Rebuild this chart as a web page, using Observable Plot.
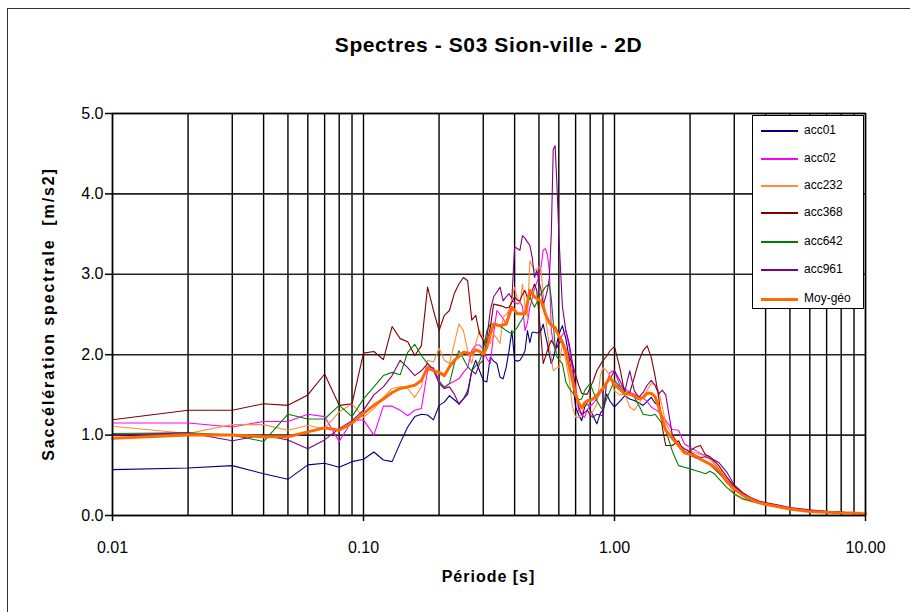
<!DOCTYPE html>
<html><head><meta charset="utf-8">
<script src="https://cdn.jsdelivr.net/npm/d3@7"></script>
<script src="https://cdn.jsdelivr.net/npm/@observablehq/plot@0.6"></script>
<style>
body{margin:0;overflow:hidden;background:#fff;font-family:Arial,"Liberation Sans",sans-serif}
#wrap{position:relative;width:910px;height:612px;overflow:hidden}
#frame{position:absolute;left:7px;top:8px;width:1200px;height:1200px;border:1px solid #333;box-sizing:border-box}
#chart{position:absolute;left:0;top:0}
.t{position:absolute;font-weight:bold;color:#000;white-space:nowrap}
#title{left:0;width:977px;text-align:center;top:33px;font-size:21px;letter-spacing:0.6px}
#xlab{left:0;width:977px;text-align:center;top:568px;font-size:16px;letter-spacing:1px}
#ylab{left:49px;top:314px;font-size:16px;letter-spacing:1.9px;transform:translate(-50%,-50%) rotate(-90deg)}
#legend{position:absolute;left:752px;top:115px;width:112px;height:194px;border:1px solid #000;background:#fff;box-sizing:border-box}
.li{position:absolute;left:8px;height:14px;font-size:12px;line-height:14px;white-space:nowrap}
.li span.sw{position:absolute;left:0;width:37px}
.li span.lb{position:absolute;left:43px;top:-1px}
</style></head>
<body>
<div id="wrap">
<div id="frame"></div>
<div id="chart"></div>
<div class="t" id="title">Spectres - S03 Sion-ville - 2D</div>
<div class="t" id="xlab">Période [s]</div>
<div class="t" id="ylab">Saccélération spectrale&nbsp; [m/s2]</div>
<div id="legend"></div>
</div>
<script>
const periods = [0.01,0.02,0.03,0.04,0.05,0.06,0.07,0.08,0.09,0.10,
0.11,0.12,0.13,0.14,0.15,0.16,0.17,0.18,0.19,0.20,
0.21,0.22,0.23,0.24,0.25,0.26,0.27,0.28,0.29,0.30,
0.31,0.32,0.33,0.34,0.35,0.36,0.37,0.38,0.39,0.40,
0.41,0.42,0.43,0.44,0.45,0.46,0.47,0.48,0.49,0.50,
0.51,0.52,0.53,0.54,0.55,0.56,0.57,0.58,0.59,0.60,
0.62,0.64,0.66,0.68,0.70,0.72,0.74,0.76,0.78,0.80,
0.82,0.85,0.88,0.90,0.93,0.96,1.00,1.05,1.10,1.15,
1.20,1.25,1.30,1.35,1.40,1.45,1.50,1.55,1.60,1.70,
1.80,1.90,2.00,2.10,2.20,2.30,2.40,2.50,2.60,2.80,
3.00,3.25,3.50,3.75,4.00,4.50,5.00,6.00,7.00,8.00,9.00,10.0];

const acc01 = [0.57,0.59,0.62,0.52,0.45,0.63,0.65,0.60,0.67,0.70,
0.79,0.69,0.67,0.90,1.10,1.23,1.26,1.25,1.19,1.37,
1.41,1.49,1.44,1.39,1.45,1.51,1.80,1.93,1.80,1.68,
1.66,1.97,1.92,1.89,1.72,1.70,1.84,2.05,2.30,1.93,
1.92,1.93,1.98,2.05,2.30,2.15,2.28,2.28,2.27,2.28,
2.30,2.38,2.25,2.14,2.00,1.89,1.95,2.05,2.15,2.25,
2.36,2.20,1.95,1.68,1.35,1.25,1.18,1.35,1.40,1.31,
1.25,1.14,1.28,1.31,1.51,1.42,1.35,1.42,1.49,1.45,
1.43,1.40,1.37,1.42,1.47,1.40,1.37,1.21,1.06,0.95,
0.88,0.80,0.75,0.72,0.70,0.67,0.63,0.58,0.53,0.42,
0.33,0.26,0.21,0.17,0.15,0.12,0.09,0.06,0.05,0.04,0.03,0.02];

const acc02 = [1.15,1.15,1.10,1.17,1.17,1.26,1.23,0.92,1.18,1.19,
1.00,1.36,1.36,1.31,1.24,1.31,1.33,1.80,1.84,1.68,
1.58,1.64,1.67,1.70,1.78,1.84,2.05,2.12,2.12,2.07,
1.95,1.89,2.26,2.55,2.50,2.45,2.38,2.55,2.67,2.65,
2.63,2.66,2.60,2.30,2.40,2.59,2.70,2.82,2.90,2.96,
3.10,3.30,3.32,3.25,3.05,2.30,2.15,2.05,2.10,2.14,
2.25,2.30,2.09,1.80,1.60,1.30,1.25,1.22,1.32,1.36,
1.39,1.45,1.53,1.56,1.64,1.78,1.80,1.62,1.58,1.53,
1.51,1.48,1.46,1.42,1.35,1.32,1.29,1.24,1.18,1.07,
1.06,0.89,0.85,0.81,0.77,0.75,0.73,0.65,0.58,0.45,
0.35,0.27,0.22,0.18,0.15,0.12,0.09,0.06,0.05,0.04,0.03,0.02];

const acc232 = [1.11,1.02,1.13,1.13,1.06,1.12,1.08,1.29,1.39,1.22,
1.33,1.47,1.58,1.60,1.58,1.47,1.60,1.93,1.91,2.08,
1.93,1.89,2.14,2.38,2.30,2.05,1.89,2.14,2.30,2.20,
2.18,2.14,2.26,2.20,2.14,2.47,2.50,2.55,2.70,2.84,
2.70,2.63,2.88,2.60,2.47,3.17,3.10,3.05,3.07,3.09,
3.05,2.76,2.50,2.30,2.10,1.97,1.80,1.82,1.84,1.84,
2.14,1.92,1.70,1.35,1.22,1.22,1.25,1.40,1.40,1.26,
1.30,1.38,1.75,1.84,1.80,1.74,1.55,1.50,1.51,1.35,
1.31,1.39,1.48,1.56,1.64,1.63,1.55,1.35,1.15,1.00,
0.89,0.83,0.80,0.78,0.76,0.74,0.70,0.64,0.58,0.44,
0.26,0.20,0.17,0.15,0.13,0.11,0.08,0.06,0.04,0.03,0.03,0.02];

const acc368 = [1.19,1.31,1.31,1.39,1.37,1.50,1.76,1.37,1.39,2.02,
2.04,1.94,2.35,2.20,2.16,1.99,2.11,2.84,2.55,2.30,
2.49,2.55,2.76,2.88,2.96,2.92,2.43,2.49,2.26,2.18,
2.14,2.34,2.63,2.62,2.61,2.60,2.58,2.59,2.65,2.72,
2.68,2.67,2.75,2.80,2.70,2.72,2.80,2.88,2.80,2.50,
2.22,1.89,1.97,2.05,2.12,2.18,2.14,2.10,2.09,2.14,
2.18,2.05,1.97,1.89,1.75,1.62,1.52,1.51,1.51,1.60,
1.66,1.80,1.88,1.93,1.98,2.05,2.10,1.84,1.51,1.53,
1.72,1.92,2.05,2.11,1.97,1.74,1.47,1.10,0.87,0.87,
0.93,0.77,0.80,0.85,0.87,0.76,0.73,0.68,0.62,0.48,
0.36,0.28,0.21,0.17,0.15,0.12,0.09,0.06,0.05,0.04,0.03,0.02];

const acc642 = [1.02,1.03,1.00,0.92,1.26,1.20,1.20,1.37,1.23,1.45,
1.60,1.74,1.78,1.75,2.03,2.13,1.99,1.89,1.80,1.66,
1.60,1.64,1.89,2.05,1.95,1.85,1.80,1.86,1.92,2.05,
2.30,2.38,2.38,2.38,2.35,2.33,2.30,2.28,2.26,2.30,
2.34,2.40,2.45,2.52,2.62,2.72,2.65,2.59,2.65,2.72,
2.76,2.80,2.84,2.86,2.88,2.70,2.40,2.10,1.97,1.94,
1.89,1.66,1.58,1.53,1.48,1.44,1.45,1.55,1.60,1.64,
1.55,1.43,1.35,1.31,1.45,1.55,1.68,1.60,1.55,1.51,
1.47,1.37,1.26,1.25,1.24,1.26,1.20,1.14,1.06,0.80,
0.62,0.60,0.58,0.56,0.54,0.52,0.55,0.52,0.46,0.35,
0.27,0.21,0.18,0.16,0.14,0.11,0.09,0.06,0.05,0.04,0.03,0.02];

const acc961 = [1.00,1.03,0.93,1.00,0.94,0.83,0.94,1.08,1.18,1.31,
1.50,1.60,1.74,1.93,1.84,1.74,1.80,1.89,1.82,1.64,
1.58,1.60,1.51,1.38,1.45,1.55,1.80,1.76,1.89,1.93,
2.20,2.55,2.72,2.78,2.84,2.67,2.72,2.76,2.70,3.34,
3.32,3.30,3.48,3.45,3.40,3.36,3.21,2.96,3.05,2.92,
2.80,2.63,2.70,2.80,2.95,3.50,4.55,4.60,4.10,3.50,
2.60,2.30,2.14,1.90,1.55,1.35,1.26,1.28,1.31,1.25,
1.22,1.26,1.25,1.24,1.65,1.70,1.80,1.68,1.55,1.80,
1.55,1.47,1.53,1.62,1.68,1.62,1.51,1.56,1.50,1.00,
0.88,0.83,0.79,0.75,0.72,0.73,0.71,0.69,0.66,0.54,
0.38,0.28,0.22,0.18,0.16,0.13,0.10,0.07,0.05,0.04,0.03,0.02];

const moyGeo = [0.96,1.00,1.00,0.98,0.98,1.04,1.09,1.06,1.15,1.27,
1.37,1.45,1.53,1.58,1.60,1.62,1.68,1.84,1.80,1.78,
1.74,1.85,1.93,1.98,2.03,2.02,2.01,2.06,2.04,2.01,
2.09,2.25,2.38,2.37,2.36,2.37,2.38,2.48,2.59,2.55,
2.51,2.51,2.51,2.51,2.65,2.80,2.76,2.72,2.70,2.68,
2.67,2.59,2.51,2.45,2.40,2.37,2.35,2.34,2.28,2.24,
2.15,2.05,1.85,1.68,1.51,1.40,1.34,1.40,1.43,1.43,
1.45,1.49,1.55,1.58,1.65,1.72,1.63,1.57,1.51,1.51,
1.49,1.45,1.47,1.52,1.52,1.48,1.35,1.20,1.06,0.96,
0.87,0.78,0.76,0.74,0.70,0.67,0.64,0.60,0.56,0.42,
0.33,0.25,0.20,0.16,0.14,0.11,0.08,0.05,0.04,0.03,0.03,0.02];

const seriesNames = ["acc01","acc02","acc232","acc368","acc642","acc961","Moy-géo"];
const seriesValues = [acc01, acc02, acc232, acc368, acc642, acc961, moyGeo];
const seriesColors = ["#000080","#ff00ff","#ff8c3a","#800000","#008000","#800080","#ff6a00"];
const seriesWidths = [1.1,1.1,1.1,1.1,1.1,1.1,3];

const xTicks = [0.01, 0.1, 1, 10];
const xGrid = [0.01,0.02,0.03,0.04,0.05,0.06,0.07,0.08,0.09,
0.1,0.2,0.3,0.4,0.5,0.6,0.7,0.8,0.9,
1,2,3,4,5,6,7,8,9,10];
const yTicks = [0,1,2,3,4,5];

const lineMarks = seriesNames.map((name, k) =>
  Plot.line(periods.map((p, i) => ({p, v: seriesValues[k][i]})), {
    x: "p", y: "v", stroke: seriesColors[k], strokeWidth: seriesWidths[k], strokeLinejoin: "round"
  })
);

const chart = Plot.plot({
  width: 910, height: 612,
  marginLeft: 112, marginRight: 45, marginTop: 113, marginBottom: 97,
  x: {type: "log", domain: [0.01, 10]},
  y: {domain: [0, 5]},
  style: {fontFamily: "Arial, 'Liberation Sans', sans-serif", fontSize: "16px", background: "transparent", color: "#000"},
  marks: [
    Plot.ruleX(xGrid, {stroke: "#000", strokeWidth: 1.4}),
    Plot.ruleY(yTicks, {stroke: "#222", strokeWidth: 1.6}),
    ...lineMarks,
    Plot.frame({stroke: "#000", strokeWidth: 1.5}),
    Plot.axisX({ticks: xTicks, tickFormat: d3.format(".2f"), tickSize: 6, tickPadding: 20, label: null, fontSize: 16, strokeWidth: 1.5}),
    Plot.axisY({ticks: yTicks, tickFormat: d3.format(".1f"), tickSize: 7, tickPadding: 2, label: null, fontSize: 16, strokeWidth: 1.5})
  ]
});
document.getElementById("chart").appendChild(chart);

const legend = document.getElementById("legend");
const legendTops = [8, 36, 63, 90, 119, 147, 176];
seriesNames.forEach((name, k) => {
  const row = document.createElement("div");
  row.className = "li";
  row.style.top = legendTops[k] + "px";
  const sw = document.createElement("span");
  sw.className = "sw";
  const h = seriesWidths[k] > 2 ? 3 : 2;
  sw.style.height = h + "px";
  sw.style.top = (7 - h / 2) + "px";
  sw.style.background = seriesColors[k];
  const lb = document.createElement("span");
  lb.className = "lb";
  lb.textContent = name;
  row.appendChild(sw); row.appendChild(lb);
  legend.appendChild(row);
});
</script>
</body></html>
